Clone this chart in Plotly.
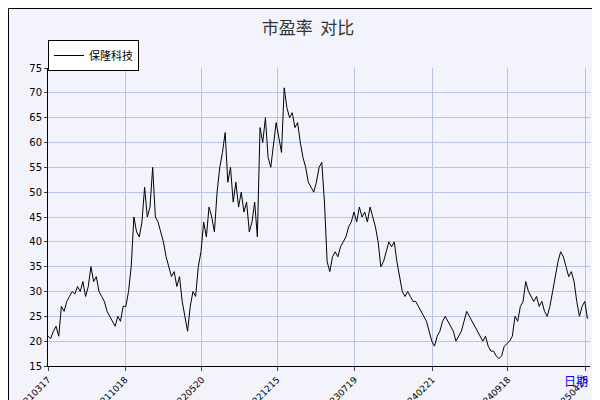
import plotly.graph_objects as go
import pandas as pd

start = pd.Timestamp("2021-03-17")
end = pd.Timestamp("2025-04-28")
pe_values = [21, 20.5, 22, 23, 21, 27, 26, 28, 29, 30, 29.5, 31, 30, 32, 29, 31, 35, 32, 33, 30,
             29, 28, 26, 25, 24, 23, 25, 24, 27, 27, 30, 35, 45, 42, 41, 44, 51, 45, 47, 55, 45,
             44, 42, 40, 37, 35, 33, 34, 31, 33, 28, 25, 22, 27, 30, 29, 35, 38, 44, 41, 47, 45,
             42, 50, 55, 58, 62, 52, 55, 48, 52, 47, 50, 46, 48, 42, 44, 48, 41, 63, 60, 65, 57,
             55, 60, 64, 61, 58, 71, 67, 65, 66, 63, 64, 60, 57, 55, 52, 51, 50, 52, 55, 56, 48,
             36, 34, 37, 38, 37, 39, 40, 41, 43, 44, 46, 44, 47, 45, 46, 44, 47, 45, 43, 40, 35,
             36, 38, 40, 39, 40, 36, 33, 30, 29, 30, 29, 28, 28, 27, 26, 25, 24, 22, 20, 19, 21,
             22, 24, 25, 24, 23, 22, 20, 21, 22, 24, 26, 25, 24, 23, 22, 21, 20, 21, 19, 18, 18,
             17, 16.5, 17, 19, 19.5, 20, 21, 25, 24, 27, 28, 32, 30, 29, 28, 29, 27, 28, 26, 25,
             27, 30, 33, 36, 38, 37, 35, 33, 34, 32, 28, 25, 27, 28, 24.5]

dates = pd.date_range(start, end, periods=len(pe_values))

tick_labels = ["20210317", "20211018", "20220520", "20221215", "20230719", "20240221", "20240918", "20250423"]
tick_dates = [pd.Timestamp(t) for t in tick_labels]
y_ticks = [15, 20, 25, 30, 35, 40, 45, 50, 55, 60, 65, 70, 75]

PW, PH = 542, 298
def px(x): return (x - 40) / PW
def py(y): return (358 - y) / PH

fig = go.Figure(go.Scatter(x=dates, y=pe_values, mode="lines", name="保隆科技",
                           line=dict(color="black", width=1)))
fig.update_layout(
    width=600, height=400, margin=dict(l=40, r=18, t=60, b=42, autoexpand=False),
    paper_bgcolor="#f3f4fb", plot_bgcolor="#dce3f6",
    title=dict(text="市盈率  对比", x=0.5, y=0.965, xanchor="center",
               font=dict(size=17, color="#333", family="Noto Sans CJK SC")),
    font=dict(family="DejaVu Sans", size=10, color="black"),
    showlegend=True,
    legend=dict(x=0.0, y=py(32), xanchor="left", yanchor="top", bgcolor="white",
                bordercolor="black", borderwidth=1, font=dict(size=11, family="Noto Sans CJK SC")),
    shapes=[
        dict(type="rect", xref="paper", yref="paper", x0=px(44), x1=px(126), y0=py(60), y1=py(36),
             line=dict(width=0), fillcolor="#aaaaaa", layer="below"),
        dict(type="rect", xref="paper", yref="paper", x0=px(5), x1=px(599), y0=py(399), y1=py(6),
             line=dict(width=0), fillcolor="#777777", layer="below"),
        dict(type="rect", xref="paper", yref="paper", x0=px(0.5), x1=px(594), y0=py(394), y1=py(0.5),
             line=dict(color="black", width=1), fillcolor="#f3f4fb", layer="below"),
    ],
    annotations=[dict(text="日期", xref="paper", yref="paper", x=1.0, y=py(362), xanchor="right",
                      yanchor="top", showarrow=False, font=dict(color="blue", size=12,
                                                               family="Noto Sans CJK SC"))],
)
fig.update_xaxes(tickvals=tick_dates, ticktext=tick_labels, tickangle=-45, showgrid=True,
                 gridcolor="#b7c3ea", ticks="outside", ticklen=4, showline=True, linecolor="black",
                 range=[start, pd.Timestamp("2025-05-05")], tickfont=dict(size=9))
fig.update_yaxes(tickvals=y_ticks, range=[15, 75], showgrid=True, gridcolor="#b7c3ea",
                 ticks="outside", ticklen=3, showline=True, linecolor="black", tickfont=dict(size=10))
fig.write_html("out.html")
